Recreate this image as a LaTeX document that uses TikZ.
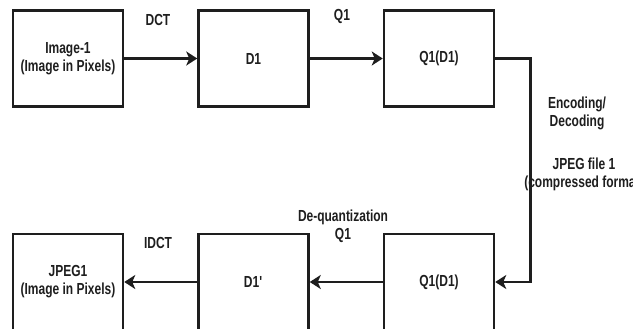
\documentclass[tikz,border=0pt]{standalone}
\usepackage{fontspec}
\setmainfont{Liberation Sans}[FakeStretch=0.75]
\usepackage{tikz}
\usetikzlibrary{arrows.meta,positioning}
\definecolor{ink}{HTML}{1E1E1E}

\begin{document}
\begin{tikzpicture}[x=1pt,y=1pt,->,>={Stealth[length=11pt,width=14pt,inset=3pt]},line width=2.5pt,draw=ink,
	node distance=73pt,
	block/.style={draw=ink,line width=2.5pt,rectangle,minimum width=110pt,minimum height=96pt,align=center,text=ink,font=\fontsize{16}{18}\selectfont\bfseries},
	lbl/.style={align=center,text=ink,font=\fontsize{16}{18}\selectfont\bfseries}]
	\useasboundingbox (0,0) rectangle (633,-329);
	\node[block]			(img)		at (68,-58.5)				{Image-1\\(Image in Pixels)};
	\node[block]			(d1)		[right=of img]				{D1};
	\node[block]			(q1d1)		[right=of d1]				{Q1(D1)};
	\node[block]			(jpeg)		[below=125pt of img]		{JPEG1\\(Image in Pixels)};
	\node[block]			(d1p)		[below=125pt of d1]			{D1\textquotesingle};
	\node[block]			(q1d1b)		[below=125pt of q1d1]		{Q1(D1)};

	\node[lbl]				(dct)		at (158,-20)				{DCT};
	\node[lbl]				(quant)		at (342,-16)				{Q1};
	\node[lbl]				(codec)		at (577,-113)				{Encoding/\\Decoding};
	\node[lbl]				(file)		at (584,-174)				{JPEG file 1\\(compressed format)};
	\node[lbl]				(dequant)	at (343,-226)				{De-quantization\\Q1};
	\node[lbl]				(idct)		at (158,-243)				{IDCT};

	\path
		(img)	edge	(d1)
		(d1)	edge	(q1d1)
		(q1d1b)	edge	(d1p)
		(d1p)	edge	(jpeg)
	;
	\draw (q1d1.east) -- ++(35,0) |- (q1d1b.east);
\end{tikzpicture}
\end{document}
